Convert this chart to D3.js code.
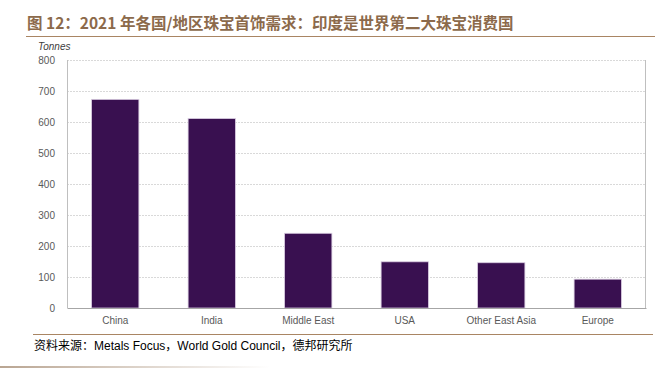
<!DOCTYPE html>
<html>
<head>
<meta charset="utf-8">
<script src="https://cdn.jsdelivr.net/npm/d3@7"></script>
<style>
  body { margin: 0; background: #fff; }
  svg { display: block; }
</style>
</head>
<body>
<div id="chart"></div>
<script>
// 2021 jewellery demand by country/region, tonnes
const regions = ["China", "India", "Middle East", "USA", "Other East Asia", "Europe"];
const demand = [673, 611, 241, 149, 146, 93];
const yTicks = [0, 100, 200, 300, 400, 500, 600, 700, 800];

const titleText = "图 12：2021 年各国/地区珠宝首饰需求：印度是世界第二大珠宝消费国";
const sourceText = "资料来源：Metals Focus，World Gold Council，德邦研究所";

const W = 663, H = 368;
const margin = {top: 60, right: 17, bottom: 60, left: 67};
const width = W - margin.left - margin.right,
      height = 308 - margin.top;

const svg = d3.select("#chart").append("svg")
  .attr("width", W)
  .attr("height", H);

// title + rule
svg.append("text")
  .attr("x", 27).attr("y", 29)
  .attr("fill", "#8c6a4b")
  .attr("font-family", "'Noto Sans CJK SC', sans-serif")
  .attr("font-weight", "bold")
  .attr("font-size", 15.5)
  .text(titleText);

svg.append("line")
  .attr("x1", 26).attr("x2", 655)
  .attr("y1", 36.5).attr("y2", 36.5)
  .attr("stroke", "#a98563").attr("stroke-width", 1.2);

const data = regions.map((r, i) => ({region: r, value: demand[i]}));

const x = d3.scaleBand()
  .domain(regions)
  .range([0, width])
  .paddingInner(0.51)
  .paddingOuter(0.255);

const y = d3.scaleLinear()
  .domain([0, 800])
  .range([height, 0]);

const g = svg.append("g")
  .attr("transform", "translate(" + margin.left + "," + margin.top + ")");

// gridlines
g.append("g")
  .selectAll("line")
  .data(yTicks.filter(d => d > 0))
  .enter().append("line")
  .attr("x1", 0).attr("x2", width)
  .attr("y1", d => Math.round(y(d)) + 0.5)
  .attr("y2", d => Math.round(y(d)) + 0.5)
  .attr("stroke", "#d9d9d9")
  .attr("stroke-dasharray", "2,1");

// frame left / right
g.append("line")
  .attr("x1", 0.5).attr("x2", 0.5)
  .attr("y1", 0).attr("y2", height)
  .attr("stroke", "#bfbfbf");
g.append("line")
  .attr("x1", width - 0.5).attr("x2", width - 0.5)
  .attr("y1", 0).attr("y2", height)
  .attr("stroke", "#bfbfbf");

// bars
g.selectAll(".bar")
  .data(data)
  .enter().append("rect")
  .attr("class", "bar")
  .attr("x", d => x(d.region))
  .attr("y", d => y(d.value))
  .attr("width", x.bandwidth())
  .attr("height", d => height - y(d.value))
  .attr("fill", "#391050")
  .attr("stroke", "#d8cbe0")
  .attr("stroke-width", 0.8);

// y axis
const yAxis = g.append("g")
  .call(d3.axisLeft(y).tickValues(yTicks).tickSize(0).tickPadding(12));
yAxis.select(".domain").remove();
yAxis.selectAll("text")
  .attr("fill", "#595959")
  .attr("font-family", "Arial, 'Liberation Sans', sans-serif")
  .attr("font-size", 10);

// x axis
const xAxis = g.append("g")
  .attr("transform", "translate(0," + height + ")")
  .call(d3.axisBottom(x).tickSize(0).tickPadding(9));
xAxis.select(".domain").attr("stroke", "#a6a6a6").attr("stroke-width", 1.2);
xAxis.selectAll("text")
  .attr("fill", "#595959")
  .attr("font-family", "Arial, 'Liberation Sans', sans-serif")
  .attr("font-size", 10);

// unit label
svg.append("text")
  .attr("x", 38).attr("y", 50)
  .attr("fill", "#404040")
  .attr("font-family", "Arial, 'Liberation Sans', sans-serif")
  .attr("font-style", "italic")
  .attr("font-size", 10)
  .text("Tonnes");

// bottom rule + source
svg.append("line")
  .attr("x1", 33).attr("x2", 653)
  .attr("y1", 334.5).attr("y2", 334.5)
  .attr("stroke", "#a98563").attr("stroke-width", 1);

svg.append("text")
  .attr("x", 34).attr("y", 350)
  .attr("fill", "#000")
  .attr("font-family", "'Liberation Sans', 'Noto Sans CJK SC', sans-serif")
  .attr("font-size", 12)
  .text(sourceText);

// faint page edge at bottom
const grad = svg.append("defs").append("linearGradient")
  .attr("id", "edge");
grad.append("stop").attr("offset", "0%").attr("stop-color", "#b9a592");
grad.append("stop").attr("offset", "100%").attr("stop-color", "#ffffff");
svg.append("rect")
  .attr("x", 0).attr("y", 366)
  .attr("width", 270).attr("height", 2)
  .attr("fill", "url(#edge)");
</script>
</body>
</html>
